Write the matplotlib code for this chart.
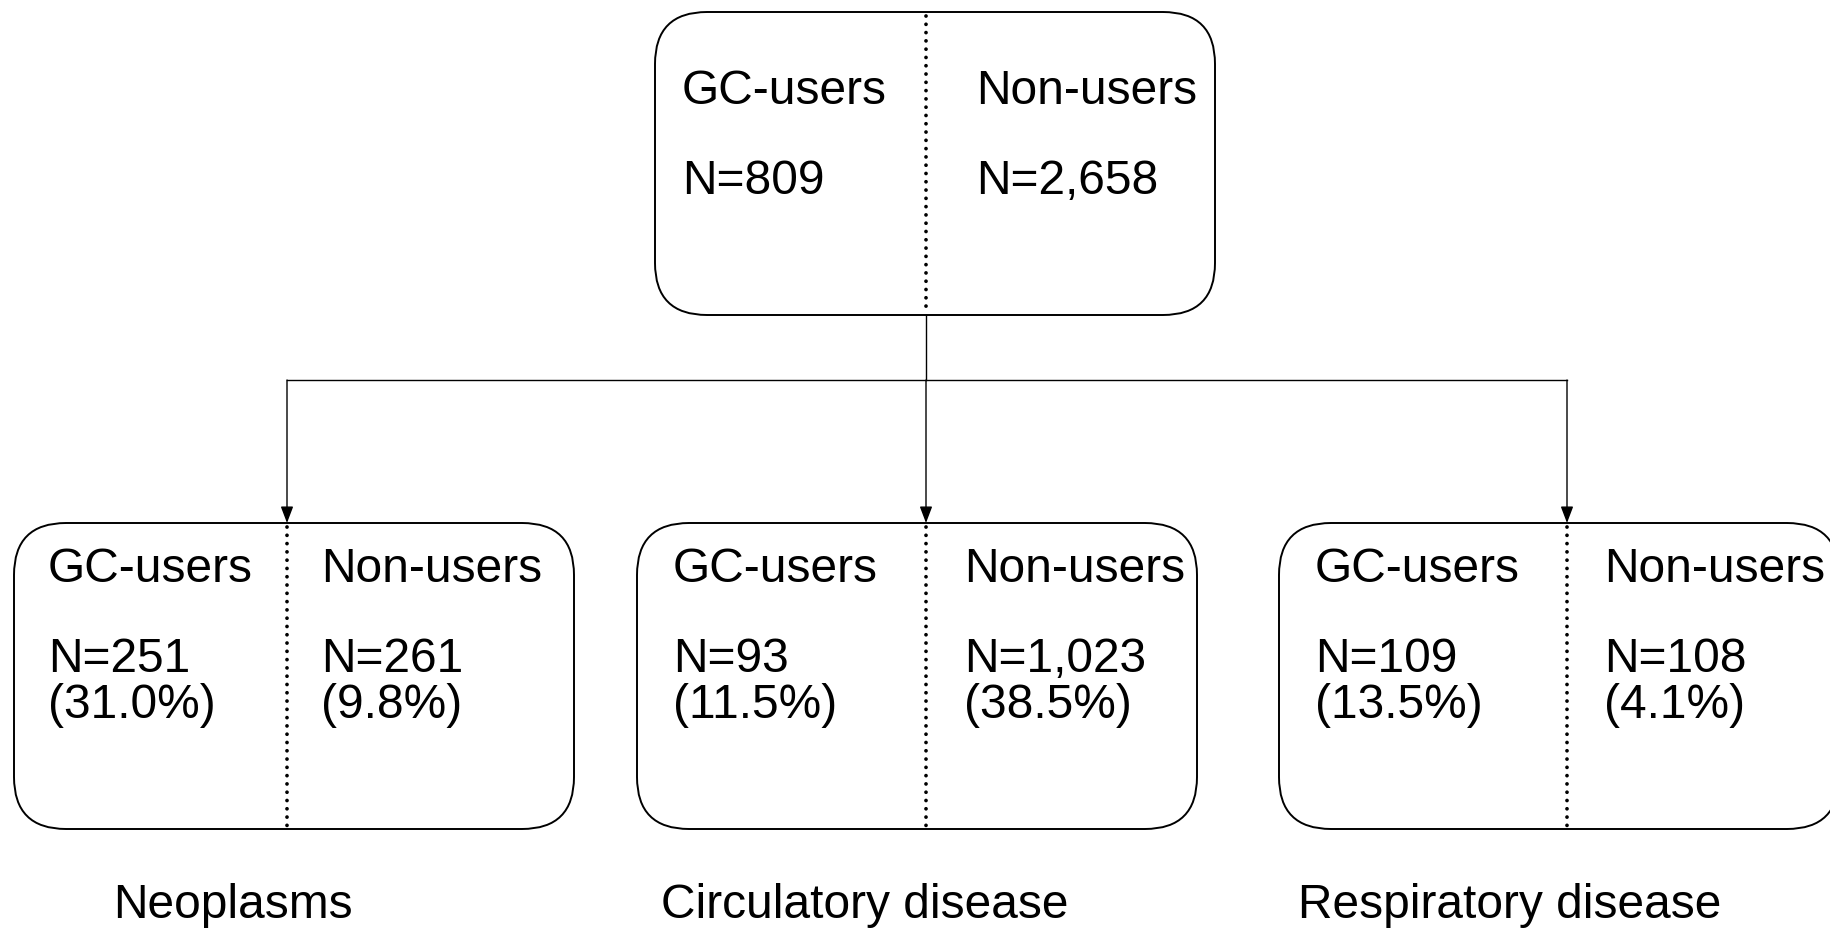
import matplotlib
matplotlib.use("Agg")
import matplotlib.pyplot as plt
from matplotlib.patches import FancyBboxPatch

plt.rcParams["font.family"] = ["Liberation Sans", "DejaVu Sans"]

# data
groups = ["GC-users", "Non-users"]
total_n = [809, 2658]
outcomes = ["Neoplasms", "Circulatory disease", "Respiratory disease"]
outcome_n = [[251, 261], [93, 1023], [109, 108]]
outcome_pct = [[31.0, 9.8], [11.5, 38.5], [13.5, 4.1]]

W, H = 1830, 942
fig = plt.figure(figsize=(W / 100, H / 100), dpi=100)
ax = fig.add_axes([0, 0, 1, 1])
ax.set_xlim(0, W)
ax.set_ylim(H, 0)
ax.axis("off")

FS = 34.5
box_w, box_h = 560, 306
rad = 52


def draw_box(x0, y0, w, h, div_x):
    box = FancyBboxPatch((x0, y0), w, h, boxstyle=f"round,pad=0,rounding_size={rad}",
                         fc="white", ec="black", lw=1.4)
    ax.add_patch(box)
    ax.plot([div_x, div_x], [y0 + 4, y0 + h - 3], color="black", lw=2.7,
            ls=(0, (0.01, 2.2)), dash_capstyle="round", zorder=3)


# top box
top_x, top_y, top_div = 655, 12, 926
draw_box(top_x, top_y, box_w, 303, top_div)
text_x_top = [682, 976]
for g, n, tx in zip(groups, total_n, text_x_top):
    ax.text(tx, 92, g, fontsize=FS, va="center", ha="left")
    ax.text(tx, 182, f"N={n:,}", fontsize=FS, va="center", ha="left")

# connectors
bot_y = 523
branch_y = 380
box_x = [14, 637, 1279]
div_x = [287, 926, 1567]
ax.plot([top_div, top_div], [top_y + 303, branch_y], color="black", lw=1.0)
ax.plot([div_x[0], div_x[-1]], [branch_y, branch_y], color="black", lw=1.0)
for dx in div_x:
    ax.annotate("", xy=(dx, bot_y), xytext=(dx, branch_y),
                arrowprops=dict(arrowstyle="-|>,head_length=1.0,head_width=0.38",
                                color="black", lw=1.0, shrinkA=0, shrinkB=0))

# bottom boxes
text_x = [[48, 321], [673, 964], [1315, 1604]]
label_x = [113, 661, 1298]
for i, name in enumerate(outcomes):
    draw_box(box_x[i], bot_y, box_w, box_h, div_x[i])
    for j, g in enumerate(groups):
        tx = text_x[i][j]
        ax.text(tx, 569, g, fontsize=FS, va="center", ha="left")
        ax.text(tx, 660, f"N={outcome_n[i][j]:,}", fontsize=FS, va="center", ha="left")
        ax.text(tx, 705, f"({outcome_pct[i][j]:.1f}%)", fontsize=FS, va="center", ha="left")
    ax.text(label_x[i], 905, name, fontsize=FS, va="center", ha="left")

fig.savefig("out.png", dpi=100, facecolor="white")
